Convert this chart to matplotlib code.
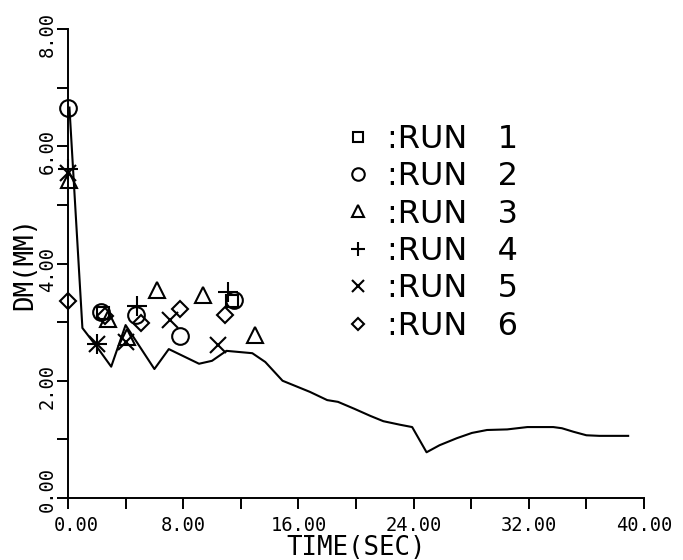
import numpy as np
import matplotlib
matplotlib.use("Agg")
import matplotlib.pyplot as plt
import matplotlib.transforms as mtransforms
from matplotlib.ticker import MultipleLocator, FormatStrFormatter

# model curve
time_model = [0.1, 1.0, 2.0, 3.0, 4.0, 6.0, 7.0, 9.1, 10.0, 11.0, 12.8, 13.7, 14.9, 16.0,
              16.8, 18.0, 18.75, 19.9, 21.0, 21.9, 23.05, 23.9, 24.9, 25.8, 27.0, 28.05,
              29.1, 30.5, 31.9, 33.7, 34.3, 35.1, 36.0, 36.9, 38.9]
dm_model = [6.66, 2.90, 2.58, 2.24, 2.95, 2.20, 2.54, 2.29, 2.34, 2.51, 2.47, 2.32, 2.00, 1.89,
            1.81, 1.67, 1.64, 1.52, 1.40, 1.31, 1.25, 1.21, 0.78, 0.90, 1.02, 1.11,
            1.16, 1.17, 1.21, 1.21, 1.19, 1.13, 1.07, 1.06, 1.06]

# measured runs
t_run1 = [2.4, 11.4]
dm_run1 = [3.15, 3.36]
t_run2 = [0.0, 2.3, 4.7, 7.8, 11.5]
dm_run2 = [6.66, 3.17, 3.12, 2.77, 3.37]
t_run3 = [0.1, 2.8, 4.1, 6.2, 9.4, 13.0]
dm_run3 = [5.43, 3.05, 2.75, 3.55, 3.47, 2.78]
t_run4 = [0.0, 2.0, 4.8, 11.1]
dm_run4 = [5.62, 2.62, 3.27, 3.52]
t_run5 = [0.0, 2.0, 4.0, 7.1, 10.4]
dm_run5 = [5.55, 2.62, 2.66, 3.03, 2.61]
t_run6 = [0.0, 2.6, 5.1, 7.8, 10.9]
dm_run6 = [3.36, 3.10, 2.99, 3.22, 3.12]

run_labels = [":RUN   1", ":RUN   2", ":RUN   3", ":RUN   4", ":RUN   5", ":RUN   6"]

fig = plt.figure(figsize=(6.83, 5.6), dpi=100)
ax = fig.add_axes([68 / 683, 62 / 560, 576 / 683, 469 / 560])

ax.plot(time_model, dm_model, color="black", lw=1.5, clip_on=False)

runs = [(t_run1, dm_run1, "s", 9), (t_run2, dm_run2, "o", 12), (t_run3, dm_run3, "^", 11),
        (t_run4, dm_run4, "+", 14), (t_run5, dm_run5, "x", 12), (t_run6, dm_run6, "D", 8)]
handles = []
for t, d, m, s in runs:
    h, = ax.plot(t, d, ls="none", marker=m, ms=s, mfc="none", mec="black", mew=1.5, clip_on=False)
    handles.append(h)

ax.set_xlim(0, 40)
ax.set_ylim(0, 8)
ax.spines["top"].set_visible(False)
ax.spines["right"].set_visible(False)
for sp in ["left", "bottom"]:
    ax.spines[sp].set_linewidth(1.4)

ax.xaxis.set_major_locator(MultipleLocator(8))
ax.xaxis.set_minor_locator(MultipleLocator(4))
ax.yaxis.set_major_locator(MultipleLocator(2))
ax.yaxis.set_minor_locator(MultipleLocator(1))
ax.xaxis.set_major_formatter(FormatStrFormatter("%.2f"))
ax.yaxis.set_major_formatter(FormatStrFormatter("%.2f"))
ax.tick_params(which="both", direction="out", length=8, width=1.4, color="black")
ax.tick_params(axis="x", pad=5)
ax.tick_params(axis="y", pad=0)

# plotter-style label offsets: y labels sit a bit below their tick, the corner ones move apart
down = mtransforms.ScaledTranslation(0, -4 / 72, fig.dpi_scale_trans)
up = mtransforms.ScaledTranslation(0, 6 / 72, fig.dpi_scale_trans)
right = mtransforms.ScaledTranslation(6 / 72, 0, fig.dpi_scale_trans)
for loc, tick in zip(ax.get_xticks(), ax.xaxis.get_major_ticks()):
    lab = tick.label1
    lab.set_fontfamily("DejaVu Sans Mono")
    lab.set_fontsize(13.5)
    if loc == 0:
        lab.set_transform(lab.get_transform() + right)
for loc, tick in zip(ax.get_yticks(), ax.yaxis.get_major_ticks()):
    lab = tick.label1
    lab.set_fontfamily("DejaVu Sans Mono")
    lab.set_fontsize(13.5)
    lab.set_rotation(90)
    lab.set_va("center")
    lab.set_transform(lab.get_transform() + (up if loc == 0 else down))

ax.set_xlabel("TIME(SEC)", fontfamily="DejaVu Sans Mono", fontsize=18.5, labelpad=0)
ax.set_ylabel("DM(MM)", fontfamily="DejaVu Sans Mono", fontsize=18.5, labelpad=0)

ax.legend(handles, run_labels, loc="upper left", bbox_to_anchor=(0.487, 0.798),
          frameon=False, prop={"family": "DejaVu Sans", "size": 23}, markerscale=0.75,
          handlelength=0.6, handletextpad=0.59, labelspacing=0.2,
          borderpad=0, borderaxespad=0)

fig.savefig("out.png", dpi=100)
